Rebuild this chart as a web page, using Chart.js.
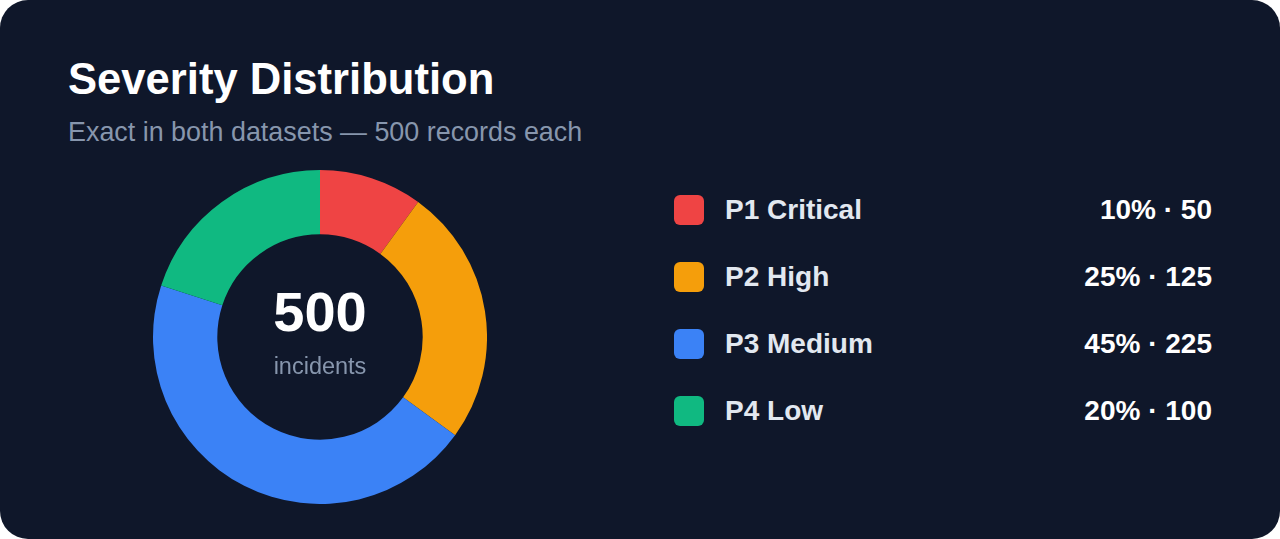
<!DOCTYPE html>
<html>
<head>
<meta charset="utf-8">
<script src="https://cdn.jsdelivr.net/npm/chart.js@4/dist/chart.umd.min.js"></script>
<style>
  html, body { margin: 0; padding: 0; background: #ffffff; }
  body { width: 1280px; height: 539px; overflow: hidden; font-family: "Liberation Sans", Arial, Helvetica, sans-serif; }
  .card { position: absolute; left: 0; top: 0; width: 1280px; height: 539px; background: #0f172a; border-radius: 28px; overflow: hidden; }
  .title { position: absolute; left: 68px; top: 53px; font-size: 43.6px; font-weight: bold; color: #ffffff; line-height: 52px; white-space: nowrap; }
  .subtitle { position: absolute; left: 68px; top: 116px; font-size: 26.9px; color: #8796ad; line-height: 32px; white-space: nowrap; }
  .chartbox { position: absolute; left: 153px; top: 170px; width: 334px; height: 334px; }
  .center { position: absolute; left: 153px; width: 334px; text-align: center; }
  .big { top: 282px; font-size: 56px; font-weight: bold; color: #ffffff; line-height: 60px; }
  .small { top: 352px; font-size: 23.5px; color: #8796ad; line-height: 28px; }
  .legend { position: absolute; left: 674px; top: 0; width: 540px; }
  .row { position: absolute; left: 0; width: 538px; height: 30px; }
  .sw { position: absolute; left: 0; top: 0; width: 30px; height: 30px; border-radius: 6px; }
  .lab { position: absolute; left: 51px; top: 0; line-height: 30px; font-size: 28px; font-weight: bold; color: #e2e8f0; white-space: nowrap; }
  .val { position: absolute; right: 0; top: 0; line-height: 30px; font-size: 28px; font-weight: bold; color: #ffffff; white-space: nowrap; }
</style>
</head>
<body>
<div class="card">
  <div class="title">Severity Distribution</div>
  <div class="subtitle">Exact in both datasets — 500 records each</div>
  <div class="chartbox"><canvas id="c" width="334" height="334"></canvas></div>
  <div class="center big" id="total"></div>
  <div class="center small">incidents</div>
  <div class="legend" id="legend"></div>
</div>
<script>
const categories = ["P1 Critical", "P2 High", "P3 Medium", "P4 Low"];
const counts = [50, 125, 225, 100];
const colors = ["#ef4444", "#f59e0b", "#3b82f6", "#10b981"];

const total = counts.reduce((a, b) => a + b, 0);
document.getElementById("total").textContent = String(total);

const legend = document.getElementById("legend");
const rowTops = [195, 262, 329, 396];
categories.forEach((cat, i) => {
  const row = document.createElement("div");
  row.className = "row";
  row.style.top = rowTops[i] + "px";
  const sw = document.createElement("div");
  sw.className = "sw";
  sw.style.background = colors[i];
  const lab = document.createElement("div");
  lab.className = "lab";
  lab.textContent = cat;
  const val = document.createElement("div");
  val.className = "val";
  val.textContent = Math.round(counts[i] / total * 100) + "% · " + counts[i];
  row.appendChild(sw); row.appendChild(lab); row.appendChild(val);
  legend.appendChild(row);
});

new Chart(document.getElementById("c"), {
  type: "doughnut",
  data: {
    labels: categories,
    datasets: [{
      data: counts,
      backgroundColor: colors,
      borderWidth: 0,
      hoverOffset: 0,
      offset: 0
    }]
  },
  options: {
    responsive: false,
    animation: false,
    cutout: "61.5%",
    layout: { padding: 0 },
    plugins: {
      legend: { display: false },
      tooltip: { enabled: false },
      title: { display: false }
    }
  }
});
</script>
</body>
</html>
